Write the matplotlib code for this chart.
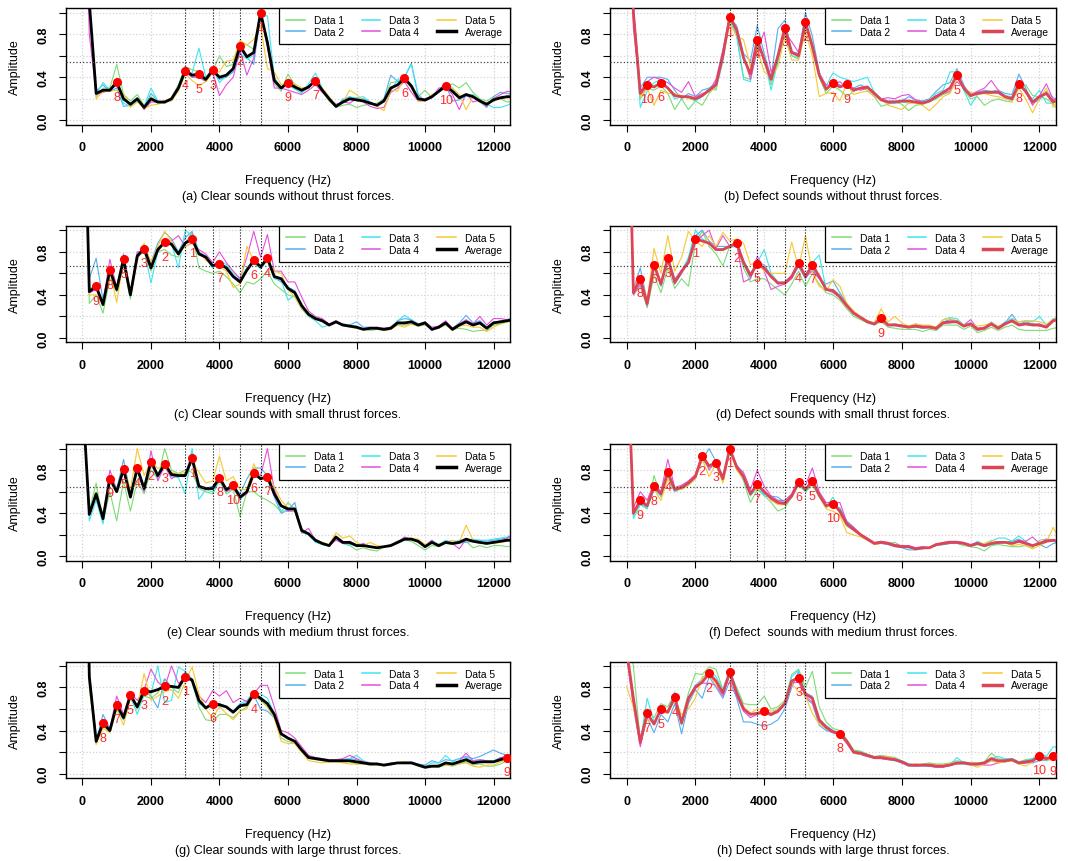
import matplotlib
matplotlib.use("Agg")
import matplotlib.pyplot as plt
from matplotlib.lines import Line2D

plt.rcParams['font.family'] = ['Liberation Sans', 'DejaVu Sans']

# frequency bins, 200 Hz apart (0 .. 12600 Hz)
freq = list(range(0, 12800, 200))

# ---------------- (a) clear, no thrust ----------------
a_avg = [3.0, 1.1, 0.25, 0.28, 0.28, 0.355, 0.20, 0.15, 0.20, 0.12, 0.20, 0.17, 0.17, 0.20, 0.30, 0.46,
         0.42, 0.43, 0.38, 0.465, 0.40, 0.42, 0.48, 0.69, 0.59, 0.63, 1.00, 0.72, 0.37, 0.30, 0.35, 0.31,
         0.28, 0.31, 0.37, 0.28, 0.20, 0.13, 0.17, 0.20, 0.19, 0.18, 0.16, 0.14, 0.18, 0.30, 0.33, 0.39,
         0.32, 0.20, 0.19, 0.22, 0.27, 0.32, 0.27, 0.21, 0.24, 0.22, 0.18, 0.15, 0.19, 0.21, 0.22, 0.22]
a_d1 = [3.0, 1.05, 0.22, 0.30, 0.30, 0.52, 0.24, 0.18, 0.24, 0.14, 0.22, 0.16, 0.17, 0.21, 0.33, 0.50,
        0.47, 0.45, 0.40, 0.46, 0.60, 0.50, 0.52, 0.74, 0.70, 0.66, 0.95, 0.72, 0.34, 0.27, 0.43, 0.33,
        0.26, 0.30, 0.40, 0.27, 0.18, 0.12, 0.14, 0.15, 0.12, 0.14, 0.15, 0.16, 0.20, 0.35, 0.36, 0.38,
        0.30, 0.22, 0.28, 0.21, 0.26, 0.30, 0.34, 0.30, 0.35, 0.26, 0.20, 0.18, 0.22, 0.20, 0.17, 0.18]
a_d2 = [3.0, 1.1, 0.27, 0.33, 0.27, 0.30, 0.13, 0.14, 0.18, 0.12, 0.25, 0.18, 0.16, 0.21, 0.32, 0.45,
        0.40, 0.42, 0.37, 0.47, 0.38, 0.40, 0.45, 0.66, 0.58, 0.52, 0.98, 0.75, 0.38, 0.31, 0.33, 0.30,
        0.27, 0.32, 0.35, 0.27, 0.20, 0.12, 0.19, 0.22, 0.20, 0.20, 0.17, 0.13, 0.20, 0.42, 0.36, 0.40,
        0.53, 0.24, 0.18, 0.22, 0.26, 0.33, 0.18, 0.19, 0.23, 0.22, 0.17, 0.12, 0.22, 0.26, 0.25, 0.24]
a_d3 = [3.0, 1.1, 0.24, 0.35, 0.28, 0.33, 0.16, 0.13, 0.19, 0.13, 0.30, 0.18, 0.17, 0.20, 0.28, 0.44,
        0.44, 0.67, 0.40, 0.48, 0.35, 0.42, 0.46, 0.62, 0.57, 0.60, 0.97, 0.97, 0.40, 0.30, 0.33, 0.29,
        0.25, 0.34, 0.44, 0.30, 0.21, 0.12, 0.20, 0.21, 0.21, 0.22, 0.17, 0.14, 0.19, 0.27, 0.38, 0.40,
        0.52, 0.22, 0.18, 0.21, 0.28, 0.35, 0.30, 0.22, 0.22, 0.24, 0.18, 0.15, 0.12, 0.12, 0.14, 0.17]
a_d4 = [3.0, 0.8, 0.24, 0.26, 0.28, 0.33, 0.20, 0.14, 0.21, 0.10, 0.17, 0.17, 0.18, 0.19, 0.30, 0.46,
        0.40, 0.40, 0.36, 0.45, 0.23, 0.33, 0.40, 0.65, 0.42, 0.58, 0.98, 0.68, 0.30, 0.30, 0.28, 0.26,
        0.24, 0.28, 0.33, 0.26, 0.20, 0.15, 0.17, 0.16, 0.20, 0.17, 0.13, 0.11, 0.12, 0.26, 0.30, 0.36,
        0.26, 0.18, 0.18, 0.21, 0.30, 0.31, 0.24, 0.10, 0.25, 0.17, 0.19, 0.13, 0.20, 0.24, 0.27, 0.26]
a_d5 = [3.0, 1.1, 0.20, 0.27, 0.27, 0.28, 0.25, 0.12, 0.17, 0.11, 0.14, 0.15, 0.17, 0.18, 0.27, 0.43,
        0.37, 0.32, 0.36, 0.44, 0.45, 0.55, 0.56, 0.74, 0.70, 0.75, 0.88, 0.48, 0.45, 0.33, 0.36, 0.34,
        0.30, 0.31, 0.37, 0.30, 0.22, 0.14, 0.17, 0.28, 0.24, 0.18, 0.16, 0.13, 0.09, 0.28, 0.27, 0.40,
        0.30, 0.18, 0.18, 0.24, 0.26, 0.31, 0.30, 0.24, 0.10, 0.22, 0.17, 0.16, 0.19, 0.20, 0.21, 0.20]
a_peaks = [5200, 4600, 3800, 3000, 3400, 9400, 6800, 1000, 6000, 10600]
a_thr = 0.54

# ---------------- (b) defect, no thrust ----------------
b_avg = [3.0, 1.0, 0.25, 0.33, 0.31, 0.35, 0.30, 0.23, 0.22, 0.22, 0.20, 0.23, 0.28, 0.33, 0.60, 0.96,
         0.84, 0.58, 0.43, 0.75, 0.56, 0.38, 0.60, 0.86, 0.63, 0.60, 0.91, 0.69, 0.42, 0.29, 0.345, 0.31,
         0.335, 0.28, 0.30, 0.31, 0.25, 0.19, 0.17, 0.17, 0.18, 0.18, 0.17, 0.16, 0.18, 0.22, 0.26, 0.30,
         0.42, 0.30, 0.23, 0.25, 0.26, 0.26, 0.26, 0.22, 0.20, 0.34, 0.27, 0.17, 0.22, 0.25, 0.17, 0.20]
b_d1 = [3.0, 0.95, 0.20, 0.30, 0.28, 0.32, 0.25, 0.10, 0.20, 0.10, 0.18, 0.14, 0.25, 0.32, 0.58, 0.93,
        0.80, 0.40, 0.38, 0.70, 0.58, 0.33, 0.55, 0.80, 0.60, 0.58, 0.88, 0.65, 0.40, 0.25, 0.32, 0.28,
        0.22, 0.27, 0.30, 0.28, 0.22, 0.13, 0.15, 0.17, 0.15, 0.09, 0.14, 0.15, 0.17, 0.20, 0.24, 0.26,
        0.44, 0.28, 0.20, 0.22, 0.14, 0.18, 0.20, 0.18, 0.17, 0.30, 0.33, 0.23, 0.22, 0.20, 0.15, 0.08]
b_d2 = [3.0, 1.05, 0.30, 0.40, 0.40, 0.40, 0.38, 0.28, 0.20, 0.25, 0.22, 0.28, 0.30, 0.35, 0.65, 0.95,
        0.88, 0.62, 0.55, 0.88, 0.62, 0.40, 0.85, 0.93, 0.64, 0.62, 1.00, 0.78, 0.45, 0.28, 0.36, 0.33,
        0.30, 0.30, 0.33, 0.30, 0.26, 0.20, 0.18, 0.18, 0.18, 0.22, 0.19, 0.18, 0.20, 0.27, 0.33, 0.35,
        0.48, 0.33, 0.22, 0.26, 0.28, 0.27, 0.28, 0.25, 0.24, 0.43, 0.30, 0.16, 0.19, 0.27, 0.21, 0.18]
b_d3 = [3.0, 1.0, 0.12, 0.27, 0.35, 0.38, 0.30, 0.20, 0.22, 0.21, 0.18, 0.22, 0.30, 0.28, 0.55, 0.94,
        0.78, 0.38, 0.36, 0.68, 0.58, 0.28, 0.55, 0.80, 0.60, 0.57, 0.93, 0.66, 0.44, 0.32, 0.44, 0.40,
        0.38, 0.36, 0.38, 0.40, 0.26, 0.20, 0.16, 0.16, 0.17, 0.16, 0.17, 0.17, 0.18, 0.25, 0.28, 0.45,
        0.45, 0.28, 0.14, 0.24, 0.26, 0.25, 0.28, 0.23, 0.22, 0.36, 0.25, 0.20, 0.28, 0.16, 0.16, 0.20]
b_d4 = [3.0, 0.85, 0.27, 0.36, 0.40, 0.38, 0.35, 0.30, 0.26, 0.36, 0.22, 0.25, 0.27, 0.38, 0.65, 0.98,
        0.85, 0.60, 0.38, 0.65, 0.82, 0.45, 0.58, 0.82, 0.73, 0.63, 0.90, 0.70, 0.43, 0.33, 0.32, 0.36,
        0.30, 0.30, 0.28, 0.30, 0.24, 0.20, 0.21, 0.20, 0.23, 0.24, 0.19, 0.17, 0.18, 0.23, 0.25, 0.27,
        0.36, 0.30, 0.24, 0.27, 0.30, 0.37, 0.28, 0.22, 0.20, 0.33, 0.26, 0.14, 0.23, 0.34, 0.19, 0.22]
b_d5 = [3.0, 1.0, 0.22, 0.30, 0.14, 0.28, 0.25, 0.25, 0.23, 0.20, 0.20, 0.24, 0.27, 0.30, 0.58, 0.90,
        0.78, 0.75, 0.50, 0.66, 0.45, 0.40, 0.50, 0.78, 0.56, 0.56, 0.82, 0.60, 0.22, 0.25, 0.26, 0.18,
        0.34, 0.24, 0.26, 0.27, 0.22, 0.20, 0.14, 0.12, 0.10, 0.16, 0.16, 0.14, 0.09, 0.15, 0.22, 0.25,
        0.39, 0.30, 0.26, 0.24, 0.25, 0.23, 0.22, 0.20, 0.18, 0.30, 0.20, 0.07, 0.20, 0.30, 0.12, 0.22]
b_peaks = [3000, 5200, 4600, 3800, 9600, 1000, 6000, 11400, 6400, 600]
b_thr = 0.54

# ---------------- (c) clear, small thrust ----------------
c_avg = [3.0, 0.43, 0.48, 0.31, 0.63, 0.45, 0.73, 0.40, 0.76, 0.83, 0.65, 0.82, 0.89, 0.87, 0.78, 0.88,
         0.92, 0.78, 0.75, 0.67, 0.69, 0.65, 0.57, 0.52, 0.63, 0.72, 0.66, 0.74, 0.57, 0.55, 0.46, 0.42,
         0.30, 0.22, 0.18, 0.16, 0.12, 0.15, 0.12, 0.11, 0.10, 0.08, 0.09, 0.09, 0.08, 0.09, 0.14, 0.14,
         0.15, 0.12, 0.14, 0.08, 0.10, 0.14, 0.08, 0.12, 0.15, 0.12, 0.14, 0.09, 0.14, 0.15, 0.16, 0.17]
c_d1 = [3.0, 0.32, 0.40, 0.23, 0.55, 0.43, 0.68, 0.36, 0.75, 0.80, 0.62, 0.80, 0.82, 0.77, 0.75, 0.88,
        0.98, 0.65, 0.62, 0.60, 0.62, 0.57, 0.50, 0.42, 0.52, 0.50, 0.55, 0.62, 0.50, 0.45, 0.40, 0.38,
        0.28, 0.20, 0.18, 0.16, 0.12, 0.15, 0.12, 0.11, 0.09, 0.08, 0.07, 0.08, 0.07, 0.08, 0.12, 0.12,
        0.13, 0.11, 0.12, 0.08, 0.09, 0.12, 0.08, 0.09, 0.08, 0.06, 0.07, 0.07, 0.12, 0.13, 0.15, 0.17]
c_d2 = [3.0, 0.55, 0.74, 0.35, 0.65, 0.48, 0.78, 0.42, 0.78, 0.84, 0.70, 0.88, 0.98, 0.92, 0.80, 0.93,
        0.99, 0.80, 0.76, 0.68, 0.70, 0.66, 0.58, 0.54, 0.62, 0.70, 0.68, 0.72, 0.56, 0.52, 0.47, 0.44,
        0.30, 0.22, 0.18, 0.15, 0.12, 0.15, 0.13, 0.12, 0.15, 0.10, 0.10, 0.09, 0.09, 0.10, 0.16, 0.18,
        0.17, 0.13, 0.14, 0.08, 0.11, 0.15, 0.09, 0.14, 0.21, 0.14, 0.16, 0.10, 0.15, 0.15, 0.17, 0.20]
c_d3 = [3.0, 0.45, 0.50, 0.30, 0.62, 0.43, 0.72, 0.38, 0.77, 0.82, 0.51, 0.80, 0.92, 0.88, 0.65, 1.00,
        0.95, 0.80, 0.74, 0.65, 0.72, 0.68, 0.60, 0.56, 0.65, 0.70, 0.64, 0.72, 0.55, 0.54, 0.35, 0.40,
        0.27, 0.20, 0.16, 0.10, 0.12, 0.14, 0.13, 0.12, 0.11, 0.08, 0.09, 0.10, 0.08, 0.10, 0.16, 0.21,
        0.17, 0.13, 0.15, 0.07, 0.10, 0.14, 0.08, 0.12, 0.16, 0.13, 0.15, 0.10, 0.14, 0.16, 0.17, 0.20]
c_d4 = [3.0, 0.42, 0.45, 0.33, 0.73, 0.47, 0.73, 0.42, 0.80, 0.80, 0.68, 0.80, 0.90, 0.90, 0.95, 0.85,
        0.88, 0.82, 0.78, 0.70, 0.80, 0.70, 0.62, 0.55, 0.75, 0.99, 0.75, 0.96, 0.62, 0.62, 0.52, 0.52,
        0.38, 0.25, 0.20, 0.18, 0.13, 0.16, 0.12, 0.11, 0.10, 0.08, 0.10, 0.10, 0.09, 0.10, 0.15, 0.13,
        0.16, 0.12, 0.15, 0.10, 0.11, 0.16, 0.09, 0.13, 0.17, 0.13, 0.20, 0.12, 0.18, 0.18, 0.17, 0.16]
c_d5 = [3.0, 0.40, 0.40, 0.33, 0.62, 0.33, 0.73, 0.40, 0.72, 0.88, 0.70, 0.85, 0.99, 0.90, 0.78, 0.85,
        0.88, 0.80, 0.72, 0.68, 0.66, 0.62, 0.47, 0.50, 0.85, 0.72, 0.68, 0.72, 0.62, 0.60, 0.45, 0.38,
        0.27, 0.21, 0.17, 0.17, 0.12, 0.15, 0.12, 0.10, 0.09, 0.08, 0.09, 0.09, 0.07, 0.08, 0.12, 0.10,
        0.13, 0.11, 0.13, 0.08, 0.09, 0.13, 0.07, 0.11, 0.12, 0.10, 0.10, 0.06, 0.10, 0.13, 0.15, 0.16]
c_peaks = [3200, 2400, 1800, 5400, 1200, 5000, 4000, 800, 400]
c_thr = 0.67

# ---------------- (d) defect, small thrust ----------------
d_avg = [3.0, 0.42, 0.55, 0.32, 0.68, 0.50, 0.74, 0.52, 0.62, 0.70, 0.92, 0.90, 0.88, 0.82, 0.82, 0.85,
         0.88, 0.70, 0.58, 0.69, 0.65, 0.57, 0.51, 0.51, 0.57, 0.695, 0.57, 0.68, 0.57, 0.45, 0.44, 0.38,
         0.30, 0.23, 0.19, 0.15, 0.13, 0.185, 0.12, 0.12, 0.11, 0.10, 0.11, 0.10, 0.10, 0.09, 0.14, 0.15,
         0.15, 0.11, 0.13, 0.08, 0.09, 0.13, 0.09, 0.13, 0.16, 0.12, 0.13, 0.12, 0.12, 0.10, 0.16, 0.17]
d_d1 = [3.0, 0.40, 0.48, 0.28, 0.58, 0.42, 0.65, 0.46, 0.55, 0.48, 0.88, 0.99, 0.85, 0.78, 0.67, 0.85,
        0.87, 0.65, 0.52, 0.55, 0.55, 0.50, 0.45, 0.40, 0.50, 0.62, 0.48, 0.60, 0.50, 0.42, 0.40, 0.35,
        0.27, 0.20, 0.17, 0.14, 0.12, 0.15, 0.10, 0.09, 0.08, 0.08, 0.08, 0.06, 0.08, 0.07, 0.12, 0.12,
        0.12, 0.08, 0.11, 0.05, 0.07, 0.10, 0.07, 0.10, 0.12, 0.08, 0.07, 0.07, 0.07, 0.07, 0.09, 0.10]
d_d2 = [3.0, 0.45, 0.65, 0.34, 0.70, 0.48, 0.76, 0.50, 0.60, 0.72, 0.95, 1.00, 0.90, 0.85, 0.85, 0.85,
        0.90, 0.72, 0.60, 0.70, 0.68, 0.58, 0.50, 0.52, 0.56, 0.66, 0.55, 0.64, 0.55, 0.50, 0.53, 0.42,
        0.32, 0.24, 0.20, 0.16, 0.14, 0.18, 0.12, 0.12, 0.11, 0.10, 0.10, 0.09, 0.10, 0.09, 0.15, 0.17,
        0.16, 0.12, 0.14, 0.07, 0.09, 0.14, 0.09, 0.14, 0.22, 0.13, 0.15, 0.13, 0.13, 0.11, 0.17, 0.19]
d_d3 = [3.0, 0.42, 0.52, 0.32, 0.70, 0.48, 0.75, 0.55, 0.62, 0.75, 1.00, 0.92, 0.88, 0.82, 0.83, 0.84,
        0.85, 0.70, 0.55, 0.70, 0.82, 0.60, 0.52, 0.52, 0.58, 0.70, 0.58, 0.70, 0.77, 0.45, 0.45, 0.40,
        0.30, 0.22, 0.19, 0.15, 0.13, 0.19, 0.13, 0.13, 0.12, 0.11, 0.12, 0.11, 0.11, 0.10, 0.17, 0.19,
        0.18, 0.12, 0.14, 0.09, 0.10, 0.15, 0.10, 0.15, 0.18, 0.15, 0.16, 0.15, 0.20, 0.12, 0.18, 0.19]
d_d4 = [3.0, 0.40, 0.50, 0.30, 0.65, 0.50, 0.72, 0.50, 0.60, 0.72, 0.88, 0.95, 1.00, 0.83, 0.95, 0.85,
        0.88, 0.52, 0.55, 0.76, 0.62, 0.45, 0.48, 0.50, 0.55, 0.68, 0.57, 0.62, 0.55, 0.45, 0.42, 0.38,
        0.30, 0.24, 0.19, 0.15, 0.13, 0.16, 0.12, 0.13, 0.12, 0.11, 0.13, 0.11, 0.11, 0.08, 0.14, 0.14,
        0.15, 0.12, 0.17, 0.09, 0.10, 0.14, 0.10, 0.14, 0.15, 0.12, 0.13, 0.13, 0.11, 0.10, 0.16, 0.21]
d_d5 = [3.0, 0.45, 0.58, 0.35, 0.83, 0.60, 0.95, 0.62, 0.75, 0.99, 0.90, 0.85, 0.95, 0.85, 0.98, 0.90,
        0.92, 0.88, 0.68, 0.70, 0.62, 0.60, 0.60, 0.60, 0.89, 0.65, 0.95, 0.60, 0.48, 0.44, 0.54, 0.48,
        0.32, 0.25, 0.20, 0.16, 0.14, 0.27, 0.15, 0.20, 0.14, 0.11, 0.13, 0.12, 0.12, 0.10, 0.17, 0.18,
        0.16, 0.12, 0.13, 0.11, 0.12, 0.14, 0.11, 0.13, 0.17, 0.15, 0.16, 0.16, 0.15, 0.13, 0.17, 0.19]
d_peaks = [2000, 3200, 1200, 5000, 3800, 800, 5400, 400, 7400]
d_thr = 0.67

# ---------------- (e) clear, medium thrust ----------------
e_avg = [1.5, 0.39, 0.58, 0.35, 0.72, 0.60, 0.81, 0.55, 0.82, 0.63, 0.88, 0.75, 0.86, 0.76, 0.75, 0.75,
         0.91, 0.65, 0.63, 0.63, 0.73, 0.62, 0.66, 0.55, 0.60, 0.77, 0.72, 0.74, 0.58, 0.47, 0.44, 0.44,
         0.24, 0.21, 0.15, 0.12, 0.10, 0.18, 0.13, 0.13, 0.10, 0.10, 0.09, 0.08, 0.09, 0.10, 0.13, 0.16,
         0.16, 0.14, 0.09, 0.13, 0.10, 0.13, 0.12, 0.13, 0.16, 0.14, 0.13, 0.12, 0.13, 0.14, 0.15, 0.15]
e_d1 = [1.5, 0.42, 0.68, 0.32, 0.60, 0.33, 0.70, 0.42, 0.70, 0.58, 0.80, 0.72, 1.00, 0.80, 0.77, 0.80,
        0.78, 0.63, 0.60, 0.58, 0.70, 0.58, 0.62, 0.37, 0.60, 0.60, 0.55, 0.52, 0.48, 0.41, 0.50, 0.44,
        0.25, 0.20, 0.15, 0.12, 0.10, 0.16, 0.12, 0.10, 0.06, 0.08, 0.06, 0.05, 0.09, 0.10, 0.12, 0.15,
        0.14, 0.10, 0.06, 0.10, 0.09, 0.12, 0.11, 0.12, 0.14, 0.08, 0.10, 0.08, 0.10, 0.10, 0.09, 0.10]
e_d2 = [1.5, 0.40, 0.55, 0.33, 0.73, 0.62, 0.90, 0.58, 0.84, 0.62, 0.90, 0.75, 0.84, 0.75, 0.74, 0.74,
        0.98, 0.66, 0.63, 0.65, 0.72, 0.62, 0.65, 0.58, 0.72, 0.82, 0.82, 0.75, 0.55, 0.40, 0.43, 0.50,
        0.22, 0.21, 0.14, 0.11, 0.10, 0.17, 0.13, 0.14, 0.11, 0.11, 0.09, 0.08, 0.09, 0.11, 0.14, 0.17,
        0.16, 0.13, 0.10, 0.13, 0.11, 0.13, 0.12, 0.14, 0.13, 0.14, 0.15, 0.14, 0.15, 0.16, 0.17, 0.18]
e_d3 = [1.5, 0.33, 0.52, 0.30, 0.70, 0.62, 0.80, 0.55, 0.78, 0.62, 0.85, 0.73, 0.85, 0.74, 0.73, 0.58,
        1.00, 0.53, 0.62, 0.60, 0.70, 0.60, 0.65, 0.52, 0.60, 0.76, 0.74, 0.70, 0.58, 0.42, 0.42, 0.45,
        0.22, 0.20, 0.13, 0.11, 0.10, 0.16, 0.12, 0.11, 0.10, 0.10, 0.09, 0.08, 0.09, 0.10, 0.13, 0.15,
        0.16, 0.15, 0.10, 0.15, 0.11, 0.15, 0.13, 0.15, 0.15, 0.16, 0.15, 0.15, 0.16, 0.17, 0.18, 0.19]
e_d4 = [1.5, 0.38, 0.56, 0.35, 0.80, 0.62, 0.78, 0.58, 0.80, 0.60, 0.98, 0.70, 0.84, 0.72, 0.76, 0.75,
        0.90, 0.64, 0.62, 0.64, 0.72, 0.60, 0.63, 0.54, 0.58, 0.80, 0.75, 1.00, 0.62, 0.47, 0.42, 0.42,
        0.22, 0.26, 0.15, 0.12, 0.10, 0.15, 0.12, 0.12, 0.10, 0.12, 0.09, 0.08, 0.09, 0.10, 0.13, 0.18,
        0.16, 0.14, 0.10, 0.15, 0.09, 0.13, 0.12, 0.07, 0.16, 0.14, 0.12, 0.12, 0.13, 0.14, 0.17, 0.22]
e_d5 = [1.5, 0.40, 0.60, 0.38, 0.74, 0.62, 0.82, 0.62, 1.00, 0.75, 0.88, 0.82, 0.82, 0.78, 0.76, 0.78,
        0.88, 0.78, 0.68, 0.70, 0.93, 0.70, 0.74, 0.62, 0.62, 0.86, 0.72, 0.75, 0.65, 0.52, 0.45, 0.42,
        0.26, 0.20, 0.16, 0.13, 0.11, 0.22, 0.17, 0.19, 0.13, 0.10, 0.13, 0.10, 0.09, 0.10, 0.14, 0.16,
        0.17, 0.16, 0.11, 0.13, 0.11, 0.13, 0.15, 0.13, 0.29, 0.15, 0.12, 0.12, 0.12, 0.13, 0.14, 0.15]
e_peaks = [3200, 2000, 2400, 1600, 1200, 5000, 5400, 4000, 800, 4400]
e_thr = 0.645

# ---------------- (f) defect, medium thrust ----------------
f_avg = [2.1, 0.40, 0.52, 0.47, 0.65, 0.58, 0.78, 0.62, 0.64, 0.68, 0.74, 0.93, 0.84, 0.87, 0.72, 1.00,
         0.83, 0.74, 0.58, 0.67, 0.60, 0.54, 0.50, 0.49, 0.56, 0.69, 0.62, 0.70, 0.57, 0.47, 0.49, 0.42,
         0.30, 0.25, 0.20, 0.16, 0.12, 0.13, 0.12, 0.10, 0.09, 0.09, 0.07, 0.08, 0.08, 0.11, 0.12, 0.13,
         0.13, 0.12, 0.10, 0.12, 0.10, 0.12, 0.13, 0.13, 0.12, 0.14, 0.12, 0.10, 0.12, 0.14, 0.15, 0.14]
f_d1 = [2.1, 0.38, 0.48, 0.44, 0.75, 0.55, 0.72, 0.60, 0.63, 0.66, 0.72, 0.90, 0.82, 0.84, 0.70, 0.98,
        0.82, 0.70, 0.50, 0.62, 0.57, 0.50, 0.42, 0.45, 0.55, 0.66, 0.60, 0.66, 0.55, 0.45, 0.50, 0.40,
        0.28, 0.24, 0.20, 0.16, 0.12, 0.14, 0.12, 0.13, 0.09, 0.08, 0.07, 0.07, 0.08, 0.10, 0.11, 0.12,
        0.12, 0.10, 0.09, 0.08, 0.05, 0.10, 0.11, 0.10, 0.09, 0.09, 0.10, 0.08, 0.15, 0.16, 0.15, 0.14]
f_d2 = [2.1, 0.42, 0.50, 0.45, 0.62, 0.57, 0.76, 0.62, 0.63, 0.70, 0.75, 0.90, 1.00, 0.88, 0.75, 0.98,
        0.85, 0.76, 0.60, 0.65, 0.58, 0.56, 0.55, 0.50, 0.57, 0.68, 0.62, 0.68, 0.58, 0.48, 0.47, 0.45,
        0.33, 0.27, 0.20, 0.15, 0.12, 0.12, 0.11, 0.09, 0.08, 0.06, 0.06, 0.07, 0.08, 0.10, 0.11, 0.12,
        0.12, 0.12, 0.10, 0.11, 0.09, 0.11, 0.12, 0.13, 0.14, 0.16, 0.12, 0.10, 0.11, 0.08, 0.12, 0.13]
f_d3 = [2.1, 0.35, 0.48, 0.45, 0.62, 0.56, 0.75, 0.60, 0.64, 0.68, 0.74, 0.92, 0.85, 0.85, 0.72, 1.00,
        0.82, 0.72, 0.56, 0.64, 0.56, 0.55, 0.52, 0.50, 0.55, 0.68, 0.60, 0.70, 0.56, 0.46, 0.55, 0.42,
        0.30, 0.25, 0.20, 0.16, 0.12, 0.14, 0.12, 0.10, 0.09, 0.08, 0.07, 0.08, 0.08, 0.11, 0.12, 0.13,
        0.13, 0.12, 0.10, 0.14, 0.11, 0.14, 0.17, 0.17, 0.14, 0.19, 0.14, 0.10, 0.13, 0.14, 0.14, 0.12]
f_d4 = [2.1, 0.45, 0.60, 0.52, 0.68, 0.60, 0.90, 0.64, 0.66, 0.70, 0.76, 0.95, 0.80, 0.90, 0.72, 1.00,
        0.84, 0.78, 0.62, 0.80, 0.65, 0.56, 0.52, 0.52, 0.58, 0.72, 0.66, 0.82, 0.60, 0.50, 0.50, 0.50,
        0.32, 0.27, 0.21, 0.17, 0.13, 0.14, 0.13, 0.11, 0.10, 0.10, 0.08, 0.09, 0.08, 0.11, 0.13, 0.14,
        0.14, 0.13, 0.11, 0.13, 0.10, 0.12, 0.13, 0.13, 0.12, 0.15, 0.14, 0.18, 0.12, 0.16, 0.15, 0.11]
f_d5 = [2.1, 0.40, 0.50, 0.48, 0.62, 0.52, 0.72, 0.64, 0.62, 0.66, 0.72, 0.90, 0.74, 0.86, 0.68, 0.98,
        0.80, 0.72, 0.60, 0.62, 0.62, 0.52, 0.48, 0.48, 0.55, 0.70, 0.62, 0.68, 0.56, 0.44, 0.42, 0.38,
        0.22, 0.20, 0.18, 0.15, 0.11, 0.12, 0.12, 0.10, 0.09, 0.09, 0.07, 0.08, 0.08, 0.12, 0.12, 0.13,
        0.13, 0.12, 0.10, 0.12, 0.12, 0.15, 0.13, 0.13, 0.10, 0.11, 0.10, 0.07, 0.10, 0.13, 0.27, 0.14]
f_peaks = [3000, 2200, 2600, 1200, 5400, 5000, 3800, 800, 400, 6000]
f_thr = 0.645

# ---------------- (g) clear, large thrust ----------------
g_avg = [5.0, 0.90, 0.30, 0.47, 0.40, 0.64, 0.52, 0.73, 0.62, 0.77, 0.76, 0.78, 0.81, 0.81, 0.80, 0.90,
         0.87, 0.68, 0.61, 0.65, 0.64, 0.62, 0.57, 0.63, 0.64, 0.74, 0.70, 0.65, 0.55, 0.37, 0.33, 0.30,
         0.22, 0.15, 0.14, 0.13, 0.12, 0.12, 0.12, 0.12, 0.11, 0.10, 0.09, 0.09, 0.08, 0.09, 0.10, 0.10,
         0.10, 0.08, 0.06, 0.07, 0.07, 0.10, 0.09, 0.11, 0.13, 0.10, 0.11, 0.11, 0.11, 0.13, 0.15, 0.15]
g_d1 = [5.0, 0.80, 0.28, 0.45, 0.38, 0.60, 0.50, 0.70, 0.60, 0.72, 0.70, 0.75, 0.88, 0.80, 0.75, 0.92,
        0.85, 0.62, 0.50, 0.49, 0.55, 0.55, 0.52, 0.58, 0.62, 0.72, 0.68, 0.62, 0.52, 0.33, 0.30, 0.28,
        0.20, 0.14, 0.13, 0.12, 0.11, 0.11, 0.11, 0.11, 0.09, 0.09, 0.08, 0.09, 0.07, 0.08, 0.10, 0.11,
        0.10, 0.07, 0.05, 0.06, 0.06, 0.08, 0.07, 0.09, 0.11, 0.08, 0.09, 0.07, 0.07, 0.09, 0.12, 0.13]
g_d2 = [5.0, 0.95, 0.30, 0.55, 0.42, 0.62, 0.50, 0.72, 0.62, 0.78, 0.72, 0.61, 0.88, 0.80, 0.80, 0.95,
        0.85, 0.65, 0.62, 0.65, 0.65, 0.62, 0.58, 0.64, 0.66, 0.73, 0.60, 0.58, 0.52, 0.36, 0.33, 0.30,
        0.22, 0.15, 0.14, 0.14, 0.12, 0.13, 0.13, 0.14, 0.13, 0.11, 0.10, 0.09, 0.08, 0.09, 0.10, 0.10,
        0.11, 0.09, 0.08, 0.12, 0.10, 0.13, 0.12, 0.14, 0.16, 0.14, 0.16, 0.19, 0.22, 0.19, 0.17, 0.17]
g_d3 = [5.0, 0.95, 0.32, 0.46, 0.40, 0.62, 0.52, 0.72, 0.55, 0.75, 0.74, 1.00, 0.66, 0.68, 0.99, 0.95,
        0.88, 0.66, 0.60, 0.64, 0.62, 0.62, 0.58, 0.65, 0.68, 0.76, 0.74, 0.70, 0.56, 0.38, 0.33, 0.30,
        0.22, 0.16, 0.15, 0.14, 0.13, 0.13, 0.13, 0.14, 0.17, 0.12, 0.10, 0.10, 0.08, 0.09, 0.10, 0.10,
        0.10, 0.08, 0.06, 0.10, 0.10, 0.17, 0.11, 0.14, 0.15, 0.12, 0.13, 0.12, 0.12, 0.15, 0.16, 0.16]
g_d4 = [5.0, 0.90, 0.30, 0.48, 0.42, 0.72, 0.55, 0.75, 0.68, 0.78, 0.97, 0.85, 0.80, 1.00, 0.84, 0.88,
        0.86, 0.72, 0.66, 0.77, 0.72, 0.77, 0.66, 0.70, 0.67, 0.74, 0.82, 0.82, 0.62, 0.40, 0.38, 0.33,
        0.25, 0.17, 0.15, 0.14, 0.13, 0.13, 0.14, 0.17, 0.14, 0.11, 0.10, 0.09, 0.08, 0.10, 0.10, 0.10,
        0.10, 0.08, 0.06, 0.07, 0.08, 0.09, 0.09, 0.12, 0.19, 0.12, 0.13, 0.12, 0.11, 0.15, 0.15, 0.14]
g_d5 = [5.0, 0.85, 0.27, 0.42, 0.38, 0.60, 0.45, 0.70, 0.62, 0.93, 0.68, 0.72, 0.76, 0.78, 0.70, 0.85,
        0.99, 0.74, 0.60, 0.52, 0.62, 0.56, 0.50, 0.58, 0.60, 0.75, 0.70, 0.62, 0.52, 0.30, 0.28, 0.28,
        0.20, 0.12, 0.11, 0.10, 0.11, 0.11, 0.10, 0.09, 0.09, 0.09, 0.08, 0.08, 0.08, 0.09, 0.10, 0.11,
        0.10, 0.08, 0.06, 0.06, 0.07, 0.08, 0.08, 0.09, 0.10, 0.07, 0.06, 0.08, 0.08, 0.11, 0.13, 0.14]
g_peaks = [3000, 2400, 1800, 5000, 1400, 3800, 1000, 600, 12400]
g_thr = None

# ---------------- (h) defect, large thrust ----------------
h_avg = [1.15, 0.70, 0.29, 0.56, 0.46, 0.60, 0.57, 0.71, 0.47, 0.70, 0.80, 0.85, 0.93, 0.86, 0.75, 0.94,
         0.75, 0.60, 0.55, 0.56, 0.58, 0.55, 0.58, 0.65, 0.86, 0.89, 0.74, 0.70, 0.50, 0.43, 0.39, 0.37,
         0.30, 0.20, 0.19, 0.17, 0.15, 0.15, 0.14, 0.13, 0.11, 0.08, 0.08, 0.08, 0.08, 0.07, 0.07, 0.08,
         0.10, 0.10, 0.09, 0.09, 0.10, 0.14, 0.12, 0.12, 0.13, 0.10, 0.11, 0.12, 0.165, 0.14, 0.16, 0.15]
h_d1 = [1.3, 1.00, 0.30, 0.60, 0.52, 0.65, 0.62, 0.75, 0.50, 0.75, 0.93, 0.92, 0.99, 0.97, 0.78, 0.95,
        0.80, 0.65, 0.64, 0.64, 0.72, 0.60, 0.62, 0.68, 0.92, 0.97, 0.80, 0.95, 0.62, 0.48, 0.42, 0.40,
        0.32, 0.22, 0.21, 0.18, 0.16, 0.17, 0.16, 0.15, 0.12, 0.09, 0.08, 0.09, 0.10, 0.09, 0.09, 0.10,
        0.12, 0.11, 0.10, 0.10, 0.11, 0.19, 0.14, 0.13, 0.14, 0.11, 0.13, 0.14, 0.14, 0.12, 0.14, 0.13]
h_d2 = [1.2, 0.65, 0.27, 0.52, 0.38, 0.55, 0.48, 0.65, 0.37, 0.65, 0.78, 0.70, 0.90, 0.80, 0.70, 0.86,
        0.70, 0.48, 0.48, 0.46, 0.44, 0.46, 0.50, 0.60, 0.80, 0.95, 0.70, 0.65, 0.45, 0.40, 0.38, 0.36,
        0.30, 0.19, 0.18, 0.16, 0.15, 0.14, 0.13, 0.12, 0.10, 0.07, 0.07, 0.07, 0.07, 0.06, 0.06, 0.08,
        0.09, 0.09, 0.08, 0.08, 0.09, 0.12, 0.11, 0.11, 0.12, 0.09, 0.10, 0.10, 0.12, 0.13, 0.15, 0.14]
h_d3 = [1.15, 0.65, 0.30, 0.70, 0.48, 0.60, 0.58, 0.76, 0.45, 0.70, 0.82, 0.88, 0.97, 0.90, 0.78, 0.97,
        0.78, 0.62, 0.55, 0.55, 0.58, 0.56, 0.60, 0.66, 0.90, 0.96, 0.75, 0.72, 0.50, 0.45, 0.40, 0.38,
        0.30, 0.21, 0.20, 0.18, 0.15, 0.15, 0.14, 0.14, 0.12, 0.09, 0.08, 0.08, 0.08, 0.07, 0.07, 0.08,
        0.15, 0.10, 0.09, 0.09, 0.10, 0.14, 0.16, 0.14, 0.14, 0.11, 0.12, 0.14, 0.20, 0.16, 0.25, 0.24]
h_d4 = [1.1, 0.62, 0.25, 0.55, 0.46, 0.60, 0.58, 0.70, 0.48, 0.68, 0.82, 0.84, 0.84, 0.82, 0.72, 0.92,
        0.72, 0.58, 0.52, 0.55, 0.56, 0.54, 0.57, 0.64, 0.84, 0.85, 0.72, 0.66, 0.48, 0.42, 0.38, 0.36,
        0.28, 0.19, 0.18, 0.16, 0.14, 0.14, 0.13, 0.13, 0.10, 0.08, 0.07, 0.08, 0.07, 0.06, 0.06, 0.08,
        0.09, 0.10, 0.09, 0.09, 0.08, 0.08, 0.10, 0.11, 0.13, 0.10, 0.10, 0.11, 0.16, 0.13, 0.14, 0.14]
h_d5 = [0.81, 0.62, 0.30, 0.50, 0.48, 0.58, 0.56, 0.68, 0.55, 0.60, 0.70, 0.90, 0.92, 0.82, 0.76, 0.96,
        0.76, 0.62, 0.56, 0.60, 0.60, 0.58, 0.60, 0.66, 0.84, 0.76, 0.72, 0.56, 0.46, 0.42, 0.40, 0.37,
        0.30, 0.19, 0.18, 0.18, 0.15, 0.16, 0.16, 0.13, 0.11, 0.08, 0.09, 0.08, 0.09, 0.08, 0.08, 0.09,
        0.09, 0.10, 0.08, 0.06, 0.09, 0.12, 0.10, 0.11, 0.12, 0.09, 0.07, 0.11, 0.17, 0.14, 0.12, 0.17]
h_peaks = [3000, 2400, 5000, 1400, 1000, 4000, 600, 6200, 12400, 12000]
h_thr = None

captions = ["(a) Clear sounds without thrust forces.",
            "(b) Defect sounds without thrust forces.",
            "(c) Clear sounds with small thrust forces.",
            "(d) Defect sounds with small thrust forces.",
            "(e) Clear sounds with medium thrust forces.",
            "(f) Defect  sounds with medium thrust forces.",
            "(g) Clear sounds with large thrust forces.",
            "(h) Defect sounds with large thrust forces."]

band_lines = [3000, 3800, 4600, 5200]
data_labels = ["Data 1", "Data 2", "Data 3", "Data 4", "Data 5"]
data_colors = ["#7ddc74", "#55aef0", "#3ee6ee", "#e44fdc", "#f7c832"]
clear_color = "black"
defect_color = "#dc4556"

panels = [
    (a_avg, [a_d1, a_d2, a_d3, a_d4, a_d5], a_peaks, a_thr, clear_color),
    (b_avg, [b_d1, b_d2, b_d3, b_d4, b_d5], b_peaks, b_thr, defect_color),
    (c_avg, [c_d1, c_d2, c_d3, c_d4, c_d5], c_peaks, c_thr, clear_color),
    (d_avg, [d_d1, d_d2, d_d3, d_d4, d_d5], d_peaks, d_thr, defect_color),
    (e_avg, [e_d1, e_d2, e_d3, e_d4, e_d5], e_peaks, e_thr, clear_color),
    (f_avg, [f_d1, f_d2, f_d3, f_d4, f_d5], f_peaks, f_thr, defect_color),
    (g_avg, [g_d1, g_d2, g_d3, g_d4, g_d5], g_peaks, g_thr, clear_color),
    (h_avg, [h_d1, h_d2, h_d3, h_d4, h_d5], h_peaks, h_thr, defect_color),
]

W, H = 1068, 862
fig = plt.figure(figsize=(W / 100, H / 100), dpi=100)

col_left = [66, 610]
col_width = [444, 446]
row_bottom = [125.7, 343.3, 561.7, 779.0]
ax_h = 116.4

for k, (avg, series, peaks, thr, avg_color) in enumerate(panels):
    col, row = k % 2, k // 2
    ax = fig.add_axes([col_left[col] / W, 1 - row_bottom[row] / H,
                       col_width[col] / W, ax_h / H])
    ax.set_xlim(-480, 12480)
    ax.set_ylim(-0.04, 1.04)

    # R style dotted grid
    for gx in range(0, 12001, 2000):
        ax.axvline(gx, color="#d3d3d3", ls=":", lw=0.9, zorder=0)
    for gy in [0, 0.2, 0.4, 0.6, 0.8, 1.0]:
        ax.axhline(gy, color="#d3d3d3", ls=":", lw=0.9, zorder=0)

    for s, c in zip(series, data_colors):
        ax.plot(freq[:len(s)], s, color=c, lw=0.8, zorder=2)
    ax.plot(freq[:len(avg)], avg, color=avg_color, lw=2.0, zorder=3)

    for bl in band_lines:
        ax.axvline(bl, color="black", ls=":", lw=0.8, zorder=4)
    if thr is not None:
        ax.axhline(thr, color="#444444", ls=":", lw=0.9, zorder=4)

    # ranked peaks of the average curve
    for rank, pf in enumerate(peaks, start=1):
        py = avg[freq.index(pf)]
        ax.plot(pf, py, "o", color="red", ms=5.5, zorder=5)
        ax.annotate(str(rank), (pf, py), xytext=(0, -10.5), textcoords="offset points",
                    ha="center", va="center", color="#ff2a2a", fontsize=9, zorder=5)

    ax.set_xticks(range(0, 12001, 2000))
    ax.set_yticks([0, 0.2, 0.4, 0.6, 0.8, 1.0])
    ax.set_yticklabels(["0.0", "", "0.4", "", "0.8", ""])
    ax.tick_params(direction="out", length=5, width=0.8, pad=7, labelsize=9)
    ax.tick_params(axis="y", labelrotation=90)
    for lbl in ax.get_xticklabels() + ax.get_yticklabels():
        lbl.set_fontweight("bold")
    for lbl in ax.get_yticklabels():
        lbl.set_va("center")
    for sp in ax.spines.values():
        sp.set_linewidth(1.0)

    ax.annotate("Frequency (Hz)", (0.5, 0), xycoords="axes fraction", xytext=(0, -40),
                textcoords="offset points", ha="center", va="center", fontsize=9)
    ax.annotate(captions[k], (0.5, 0), xycoords="axes fraction", xytext=(0, -51.5),
                textcoords="offset points", ha="center", va="center", fontsize=9)
    ax.annotate("Amplitude", (0, 0.5), xycoords="axes fraction", xytext=(-37, 0),
                textcoords="offset points", ha="center", va="center", rotation=90, fontsize=9)

    handles = [Line2D([], [], color=c, lw=1.1) for c in data_colors]
    handles.append(Line2D([], [], color=avg_color, lw=2.5))
    leg = ax.legend(handles, data_labels + ["Average"], loc="upper right", ncol=3,
                    bbox_to_anchor=(1, 1), borderaxespad=0, fontsize=7.4,
                    handlelength=1.8, handletextpad=0.9, columnspacing=1.7,
                    labelspacing=0.15, borderpad=0.7, fancybox=False,
                    edgecolor="black", framealpha=1)
    leg.get_frame().set_linewidth(0.9)
    leg.set_zorder(10)

fig.savefig("out.png", dpi=100)
